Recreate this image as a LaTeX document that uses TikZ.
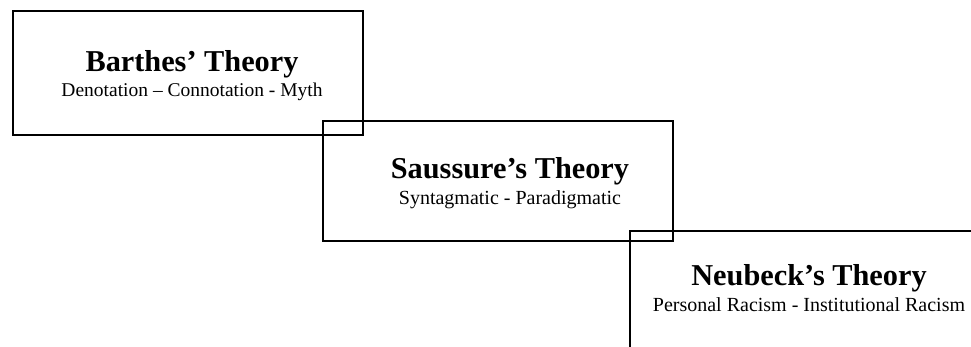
\documentclass[tikz,border=0pt]{standalone}
\usepackage{fontspec}
\setmainfont{Liberation Serif}
\usetikzlibrary{positioning}

\begin{document}
\begin{tikzpicture}[
  frame/.style={draw, line width=2pt, minimum width=350pt, minimum height=#1, inner sep=0pt},
  frame/.default=124pt,
  title/.style={font=\bfseries\fontsize{30.3}{34}\selectfont, anchor=base, inner sep=0pt},
  sub/.style={font=\fontsize{#1}{23}\selectfont, anchor=base, inner sep=0pt},
  sub/.default=20]
  \useasboundingbox (0,0) rectangle (971pt,-347pt);
  \clip (0,0) rectangle (971pt,-347pt);

  % three overlapping frames, stepping down to the right
  \node[frame, anchor=north west] (barthes) at (12pt,-10pt) {};
  \node[frame=120pt, anchor=north west] (saussure) at ([xshift=-42pt,yshift=16pt]barthes.south east) {};
  \node[frame=120pt, minimum width=370pt, anchor=north west] (neubeck) at ([xshift=-45pt,yshift=12pt]saussure.south east) {};

  % texts
  \node[title] (barthesT) at ([xshift=4pt,yshift=-62pt]barthes.north) {Barthes’ Theory};
  \node[sub=19.5] (barthesS) at ([yshift=-25pt]barthesT.base) {Denotation – Connotation - Myth};

  \node[title] (saussureT) at ([xshift=12pt,yshift=-59pt]saussure.north) {Saussure’s Theory};
  \node[sub] (saussureS) at ([yshift=-26pt]saussureT.base) {Syntagmatic - Paradigmatic};

  \node[title] (neubeckT) at ([xshift=-6pt,yshift=-55pt]neubeck.north) {Neubeck’s Theory};
  \node[sub] (neubeckS) at ([yshift=-26pt]neubeckT.base) {Personal Racism - Institutional Racism};
\end{tikzpicture}
\end{document}
